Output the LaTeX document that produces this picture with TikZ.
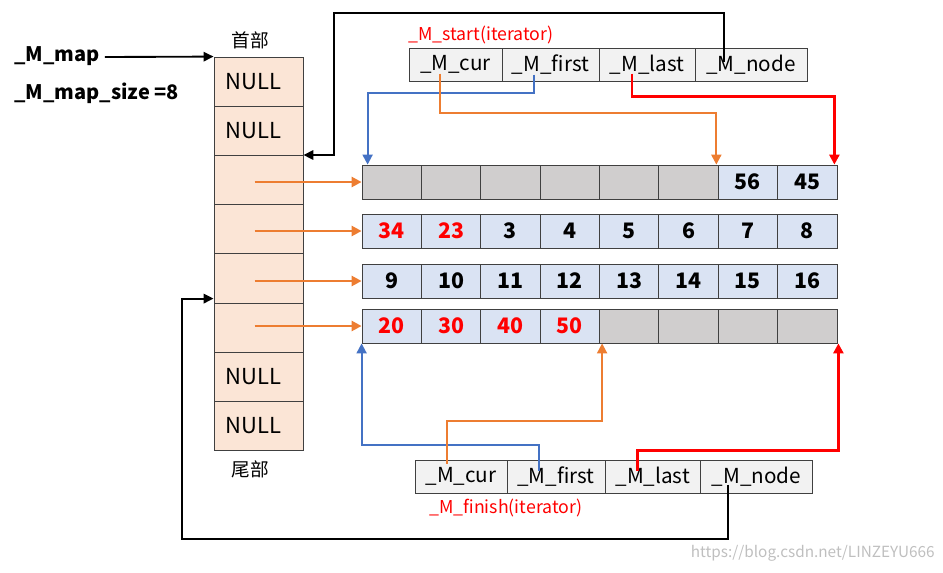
\documentclass[tikz,border=0pt]{standalone}
\usepackage{fontspec}
\setmainfont{Noto Sans CJK SC}
\usetikzlibrary{arrows.meta,calc}
\definecolor{cellblue}{HTML}{DAE3F3}
\definecolor{cellgray}{HTML}{D0CECE}
\definecolor{mapfill}{HTML}{FBE5D6}
\definecolor{itfill}{HTML}{F2F2F2}
\definecolor{edge}{HTML}{404040}
\definecolor{corange}{HTML}{ED7D31}
\definecolor{cblueln}{HTML}{4472C4}
\definecolor{cred}{HTML}{FF0000}
\begin{document}
\begin{tikzpicture}[x=0.75pt,y=-0.75pt,
  basecell/.style={draw=edge,line width=0.6pt,inner sep=0pt,anchor=center},
  mapcell/.style={basecell,fill=mapfill,minimum width=66.75pt,minimum height=36.9pt,font=\fontsize{16.5}{18}\selectfont},
  gc/.style={basecell,fill=cellgray,minimum width=44.53pt,minimum height=25.5pt},
  bc/.style={basecell,fill=cellblue,minimum width=44.53pt,minimum height=25.5pt,font=\fontsize{16}{18}\selectfont\bfseries},
  bcr/.style={bc,text=cred},
  itcell/.style={basecell,fill=itfill,minimum height=24.75pt,font=\fontsize{15.5}{17}\selectfont},
  lbl/.style={inner sep=0pt,font=\fontsize{15}{17}\selectfont\bfseries},
  cjklbl/.style={inner sep=0pt,font=\fontsize{14}{16}\selectfont},
  redlbl/.style={inner sep=0pt,text=cred,font=\fontsize{13.3}{15}\selectfont,anchor=west},
  blkarr/.style={line width=1.6pt,-{Triangle[length=7.5pt,width=7pt]}},
  blkthin/.style={line width=1.4pt,-{Triangle[length=7.5pt,width=7pt]}},
  blueln/.style={draw=cblueln,line width=1.5pt,-{Triangle[length=7.5pt,width=7.5pt]}},
  orln/.style={draw=corange,line width=1.5pt,-{Triangle[length=7.5pt,width=7.5pt]}},
  redln/.style={draw=cred,line width=2.1pt,-{Triangle[length=7.5pt,width=7.5pt]}},
  maparr/.style={draw=corange,line width=1.9pt,-{Triangle[length=7.5pt,width=7.5pt]}}
]
\useasboundingbox (0,0) rectangle (943,572);

% map cells
\foreach \k/\t in {1/NULL,2/NULL,3/{},4/{},5/{},6/{},7/NULL,8/NULL}
  \node[mapcell] (m\k) at (258.5,{57+(\k-0.5)*49.2}) {\hspace*{-8pt}\t};

\node[cjklbl] (head) at (250,40) {首部};
\node[cjklbl] (tail) at (250,469) {尾部};

\node[lbl,anchor=west] (mp) at (14,56) {\_M\_map};
\node[lbl,anchor=west] (mps) at (14,93) {\_M\_map\_size =8};
\draw[blkthin] ($(mp.east)+(5,1)$) -- (m1.north west);

% buffers
\foreach \i/\s/\t in {1/gc/{},2/gc/{},3/gc/{},4/gc/{},5/gc/{},6/gc/{},7/bc/56,8/bc/45}
  \node[\s] (r1c\i) at ({362+(\i-0.5)*59.375},182) {\t};
\foreach \i/\s/\t in {1/bcr/34,2/bcr/23,3/bc/3,4/bc/4,5/bc/5,6/bc/6,7/bc/7,8/bc/8}
  \node[\s] (r2c\i) at ({362+(\i-0.5)*59.375},231) {\t};
\foreach \i/\s/\t in {1/bc/9,2/bc/10,3/bc/11,4/bc/12,5/bc/13,6/bc/14,7/bc/15,8/bc/16}
  \node[\s] (r3c\i) at ({362+(\i-0.5)*59.375},281) {\t};
\foreach \i/\s/\t in {1/bcr/20,2/bcr/30,3/bcr/40,4/bcr/50,5/gc/{},6/gc/{},7/gc/{},8/gc/{}}
  \node[\s] (r4c\i) at ({362+(\i-0.5)*59.375},326) {\t};

% map -> buffer arrows
\foreach \rr in {1,2,3,4}
  \draw[maparr] ($(r\rr c1.west)+(-107,0)$) -- (r\rr c1.west);

% start iterator
\node[itcell,minimum width=69.75pt] (s1) at (455.5,64.5) {\_M\_cur};
\node[itcell,minimum width=72.75pt] (s2) at (550.5,64.5) {\_M\_first};
\node[itcell,minimum width=72pt] (s3) at (647,64.5) {\_M\_last};
\node[itcell,minimum width=84pt] (s4) at (751,64.5) {\_M\_node};
\node[redlbl] (slbl) at (408,35) {\_M\_start(iterator)};

% finish iterator
\node[itcell,minimum width=69pt] (f1) at (461,476.5) {\_M\_cur};
\node[itcell,minimum width=73.5pt] (f2) at (556,476.5) {\_M\_first};
\node[itcell,minimum width=71.7pt] (f3) at (652.8,476.5) {\_M\_last};
\node[itcell,minimum width=83.55pt] (f4) at (756.3,476.5) {\_M\_node};
\node[redlbl] (flbl) at (429,508) {\_M\_finish(iterator)};

% start connectors
\draw[blueln] ($(s2.center)+(-16.5,10)$) -- ++(0,18) -| ($(r1c1.north west)+(6,0)$);
\draw[orln] ($(s1.center)+(-16,9)$) -- ++(0,39) -| ($(r1c7.north west)+(-1.5,0)$);
\draw[redln] ($(s3.center)+(-15,9)$) -- ++(0,23) -| ($(r1c8.north east)+(-3,0)$);
\draw[blkarr] ($(s4.center)+(-27,-3)$) |- (334,13) |- (m3.north east);

% finish connectors
\draw[blueln] ($(f2.center)+(-17,-6)$) -- ++(0,-26) -| (r4c1.south west);
\draw[orln] ($(f1.center)+(-14,-13)$) -- ++(0,-43) -| ($(r4c5.south west)+(3,0)$);
\draw[redln] ($(f3.center)+(-15,-6)$) -- ++(0,-20) -| ($(r4c8.south east)+(1,0)$);
\draw[blkarr] ($(f4.center)+(-28,8)$) |- (182,539) |- ($(m6.north west)+(0,-4)$);

\node[anchor=east,inner sep=0pt,text=black!25,font=\fontsize{11.5}{13}\selectfont] (wm) at (935,553) {https://blog.csdn.net/LINZEYU666};
\end{tikzpicture}
\end{document}
